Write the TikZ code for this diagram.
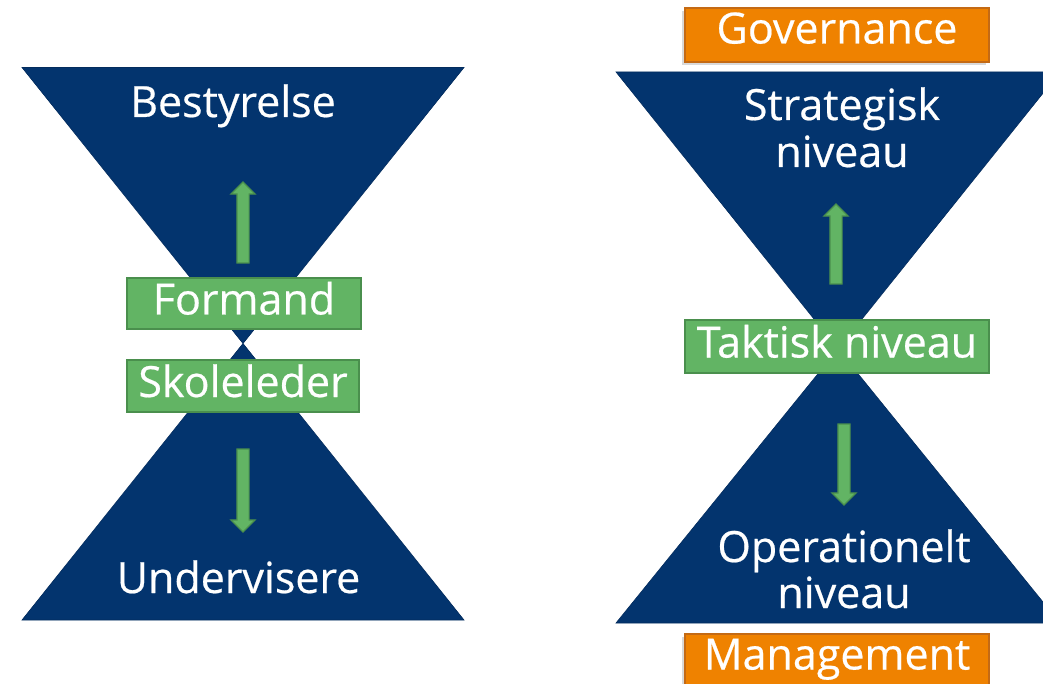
\documentclass[tikz,border=0pt]{standalone}
\usepackage{fontspec}
\setmainfont{Open Sans}[FakeBold=0.5]
\usetikzlibrary{shapes.arrows,shadows,positioning}
\definecolor{navy}{HTML}{03346E}
\definecolor{leaf}{HTML}{62B464}
\definecolor{leafdark}{HTML}{4A8F4D}
\definecolor{amber}{HTML}{EF8200}
\definecolor{amberdark}{HTML}{C46A14}
\newcommand{\lbl}{\fontsize{43}{47}\selectfont}

\begin{document}
\begin{tikzpicture}[x=1pt, y=-1pt,
    funnel/.style={fill=navy, draw=navy!85!black, line width=0.6pt},
    greenbox/.style={fill=leaf, draw=leafdark, line width=1.5pt, inner sep=0pt,
      text=white, font=\lbl, text height=30pt, text depth=8pt},
    orangebox/.style={fill=amber, draw=amberdark, line width=1.5pt, inner sep=0pt,
      text=white, font=\lbl, text height=30pt, text depth=13pt,
      drop shadow={shadow xshift=-3pt, shadow yshift=-3pt, opacity=0.3}},
    levelarrow/.style={single arrow, fill=leaf, draw=leafdark, line width=1.2pt,
      inner xsep=0pt, inner ysep=5.5pt, minimum width=1pt,
      single arrow head extend=6pt},
    word/.style={text=white, font=\lbl, anchor=base, inner sep=0pt}]
  \useasboundingbox (0,0) rectangle (1043,684);
  \clip (0,0) rectangle (1043,684);

  % left hourglass
  \fill [funnel] (22,67.5) -- (464,67.5) -- (243,343.5) -- cycle;
  \fill [funnel] (22,620) -- (464,620) -- (243,343.5) -- cycle;

  \node [word, name=bestyrelse] at (233,117) {Bestyrelse};
  \node [word, name=undervisere] at (238.5,593) {Undervisere};

  \node [greenbox, minimum width=234pt, minimum height=51pt, name=formand]
    at (244,303.5) {Formand};
  \node [greenbox, minimum width=232pt, minimum height=52pt, name=skoleleder]
    at (243,386) {Skoleleder};

  \node [levelarrow, minimum height=81pt, rotate=90, name=upL] at (243,225.5) {};
  \node [levelarrow, minimum height=83pt, rotate=-90, name=downL] at (243,487.5) {};

  % right hourglass
  \fill [funnel] (616,72) -- (1060,72) -- (838,349) -- cycle;
  \fill [funnel] (616,623) -- (1060,623) -- (838,349) -- cycle;

  \node [word, name=strategisk] at (842,120) {Strategisk};
  \node [word, name=strategiskB] at ([yshift=-47pt]strategisk.base) {niveau};
  \node [word, name=operationelt] at (844,562) {Operationelt};
  \node [word, name=operationeltB] at ([yshift=-46pt]operationelt.base) {niveau};

  \node [orangebox, minimum width=304pt, minimum height=54pt, name=governance]
    at (837,35) {Governance};
  \node [greenbox, minimum width=304pt, minimum height=53pt, name=taktisk]
    at (837,346.5) {Taktisk niveau};
  \node [orangebox, minimum width=304pt, minimum height=54pt, name=management]
    at (837,661) {Management};

  \node [levelarrow, minimum height=80pt, rotate=90, name=upR] at (836,247) {};
  \node [levelarrow, minimum height=81pt, rotate=-90, name=downR] at (844,461.5) {};
\end{tikzpicture}
\end{document}
